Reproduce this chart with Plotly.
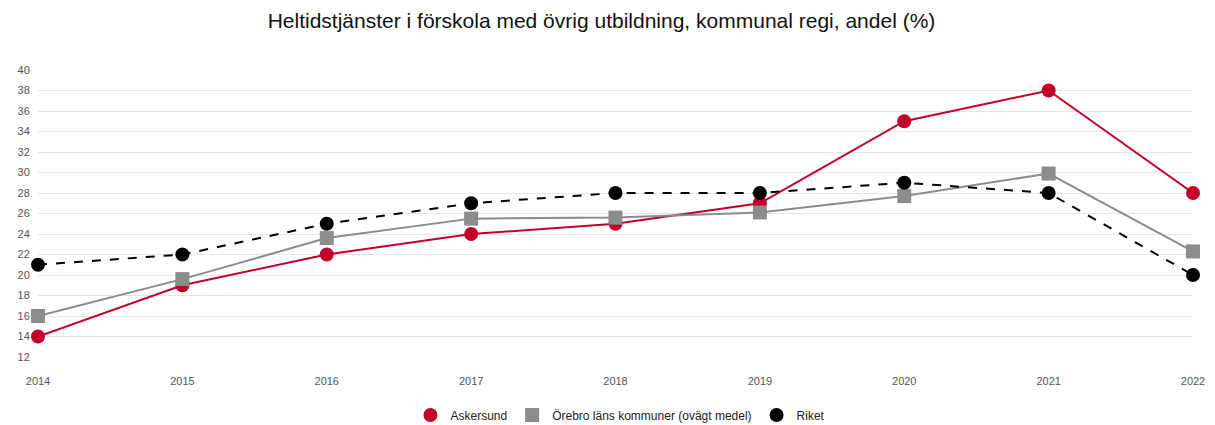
import plotly.graph_objects as go

years = [2014, 2015, 2016, 2017, 2018, 2019, 2020, 2021, 2022]
askersund = [14, 19, 22, 24, 25, 27, 35, 38, 28]
orebro = [16, 19.6, 23.6, 25.5, 25.6, 26.1, 27.7, 29.9, 22.3]
riket = [21, 22, 25, 27, 28, 28, 29, 28, 20]

names = ["Askersund", "Örebro läns kommuner (ovägt medel)", "Riket"]
colors = ["#c1002c", "#8c8c8c", "#000000"]
symbols = ["circle", "square", "circle"]
dashes = ["solid", "solid", "dash"]
y_ticks = list(range(12, 41, 2))

# page body has an 8px default margin; figure is sized so it ends at the window edge
W, H = 1207, 417

fig = go.Figure()
for vals, name, col, sym, dash in zip([askersund, orebro, riket], names, colors, symbols, dashes):
    fig.add_trace(go.Scatter(
        x=years, y=vals, name=name, mode="lines+markers",
        line=dict(color=col, width=2, dash=dash),
        marker=dict(symbol=sym, size=14, color=col),
        cliponaxis=False, showlegend=False,
    ))
# legend entries (marker only)
for name, col, sym in zip(names, colors, symbols):
    fig.add_trace(go.Scatter(
        x=[None], y=[None], name=name, mode="markers",
        marker=dict(symbol=sym, size=14, color=col), showlegend=True,
    ))

fig.update_layout(
    width=W, height=H,
    margin=dict(l=30, r=22, t=62, b=68, autoexpand=False),
    paper_bgcolor="white", plot_bgcolor="white",
    font=dict(family="Liberation Sans, Arial, sans-serif", color="#555555", size=11),
    title=dict(text="Heltidstjänster i förskola med övrig utbildning, kommunal regi, andel (%)",
               x=(601.5 - 8) / W, xanchor="center", y=1 - 13 / H, yanchor="middle",
               font=dict(size=21, color="#111111")),
    showlegend=True,
    legend=dict(orientation="h", x=0.5043, xanchor="center", yref="container",
                y=1 - 407 / H, yanchor="middle",
                font=dict(size=12, color="#222222"), itemwidth=30, tracegroupgap=0),
    xaxis=dict(range=[2014, 2022], tickmode="array", tickvals=years,
               ticktext=[str(y) for y in years], showgrid=False, zeroline=False,
               showline=False, ticks="outside", ticklen=14, tickcolor="rgba(0,0,0,0)",
               automargin=False),
    yaxis=dict(range=[12, 40], tickmode="array", tickvals=y_ticks,
               showgrid=True, gridcolor="#e6e6e6", gridwidth=1, zeroline=False,
               ticks="outside", ticklen=5, tickcolor="rgba(0,0,0,0)", automargin=False),
)

fig.write_html("out.html")
